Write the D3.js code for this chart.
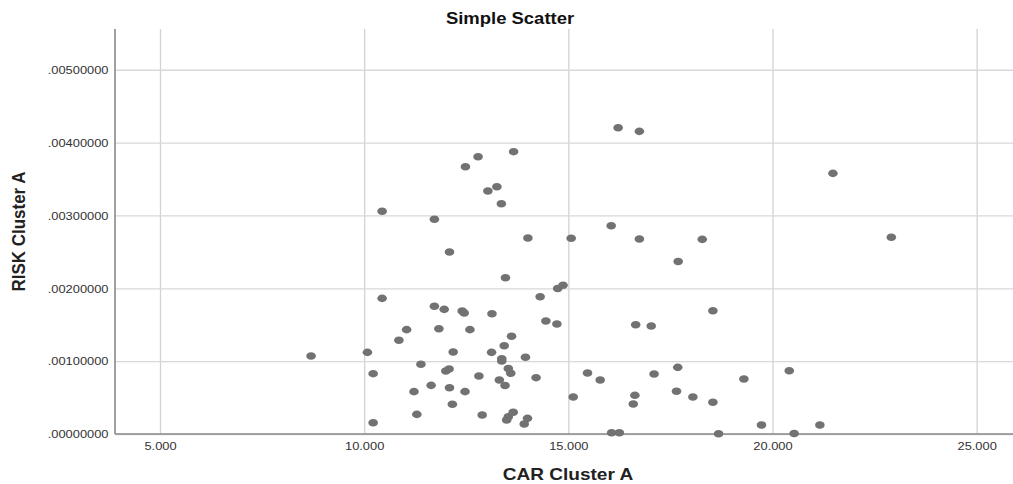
<!DOCTYPE html>
<html>
<head>
<meta charset="utf-8">
<script src="https://cdn.jsdelivr.net/npm/d3@7"></script>
<style>
  html, body { margin: 0; padding: 0; background: #fff; }
  svg { display: block; }
  text { font-family: "Liberation Sans", Arial, sans-serif; }
</style>
</head>
<body>
<script>
// CAR Cluster A (x) values
const carValues = [
  8.70, 10.08, 10.22, 10.22, 10.44, 10.44, 10.85, 11.04, 11.22, 11.29,
  11.39, 11.64, 11.72, 11.72, 11.83, 11.96, 12.08, 12.00, 12.09, 12.09,
  12.16, 12.18, 12.40, 12.45, 12.47, 12.48, 12.59, 12.79, 12.81, 12.89,
  13.03, 13.12, 13.13, 13.25, 13.31, 13.36, 13.37, 13.37, 13.43, 13.46,
  13.45, 13.49, 13.53, 13.53, 13.59, 13.61, 13.65, 13.66, 13.95, 13.92,
  14.00, 14.01, 14.21, 14.31, 14.45, 14.72, 14.74, 14.87, 15.07, 15.12,
  15.47, 15.78, 16.05, 16.06, 16.22, 16.25, 16.59, 16.63, 16.65, 16.74,
  16.74, 17.03, 17.10, 17.65, 17.68, 17.69, 18.05, 18.28, 18.54, 18.54,
  18.68, 19.30, 19.73, 20.41, 20.53, 21.16, 21.48, 22.91
];
// RISK Cluster A (y) values
const riskValues = [
  0.001071, 0.001121, 0.000828, 0.000155, 0.003057, 0.001862, 0.001286, 0.001432, 0.000581, 0.000270,
  0.000957, 0.000668, 0.002947, 0.001753, 0.001445, 0.001711, 0.000892, 0.000865, 0.000635, 0.002498,
  0.000408, 0.001125, 0.001688, 0.001661, 0.000581, 0.003669, 0.001432, 0.003806, 0.000796, 0.000261,
  0.003335, 0.001121, 0.001651, 0.003394, 0.000741, 0.003161, 0.001033, 0.001002, 0.001212, 0.002145,
  0.000666, 0.000192, 0.000237, 0.000899, 0.000833, 0.001341, 0.000298, 0.003875, 0.001053, 0.000137,
  0.000215, 0.002690, 0.000773, 0.001884, 0.001551, 0.001510, 0.001997, 0.002041, 0.002686, 0.000508,
  0.000837, 0.000741, 0.002859, 0.000018, 0.004204, 0.000018, 0.000412, 0.000531, 0.001500, 0.004154,
  0.002676, 0.001482, 0.000824, 0.000586, 0.000915, 0.002368, 0.000508, 0.002672, 0.000435, 0.001692,
  0.000004, 0.000755, 0.000124, 0.000869, 0.000007, 0.000124, 0.003578, 0.002700
];
const xTicks = [5, 10, 15, 20, 25];
const xTickLabels = ["5.000", "10.000", "15.000", "20.000", "25.000"];
const yTicks = [0, 0.001, 0.002, 0.003, 0.004, 0.005];
const yTickLabels = [".00000000", ".00100000", ".00200000", ".00300000", ".00400000", ".00500000"];
const chartTitle = "Simple Scatter";
const xTitle = "CAR Cluster A";
const yTitle = "RISK Cluster A";

const W = 1013, H = 484;
const pLeft = 115, pTop = 29, pRight = 1013, pBottom = 434;
const SX = 1.12; // horizontal text stretch seen in reference

const x = d3.scaleLinear().domain([3.898, 25.89]).range([pLeft, pRight]);
const y = d3.scaleLinear().domain([0, 0.005559]).range([pBottom, pTop]);

const svg = d3.select("body").append("svg").attr("width", W).attr("height", H);

// X axis with vertical gridlines
const xAxis = d3.axisBottom(x)
  .tickValues(xTicks)
  .tickFormat((d, i) => xTickLabels[i])
  .tickSizeInner(-(pBottom - pTop))
  .tickSizeOuter(0);
const gx = svg.append("g").attr("transform", `translate(0,${pBottom})`).call(xAxis);
gx.selectAll(".tick line").attr("stroke", "#d2d2d2").attr("stroke-width", 1.3);
gx.selectAll(".tick text")
  .attr("y", 16).attr("dy", 0)
  .attr("transform", `scale(${SX},1)`)
  .attr("fill", "#333").style("font-size", "11.5px");
gx.select(".domain").remove();

// Y axis with horizontal gridlines
const yAxis = d3.axisLeft(y)
  .tickValues(yTicks)
  .tickFormat((d, i) => yTickLabels[i])
  .tickSizeInner(-(pRight - pLeft))
  .tickSizeOuter(0);
const gy = svg.append("g").attr("transform", `translate(${pLeft},0)`).call(yAxis);
gy.selectAll(".tick line").attr("stroke", "#d8d8d8").attr("stroke-width", 1.3);
gy.selectAll(".tick text")
  .attr("x", -6.5 / SX).attr("dy", "0.33em")
  .attr("transform", `scale(${SX},1)`)
  .attr("fill", "#333").style("font-size", "11.5px");
gy.select(".domain").remove();

// axis lines
svg.append("line").attr("x1", pLeft).attr("x2", pLeft).attr("y1", pTop).attr("y2", pBottom)
  .attr("stroke", "#8a8a8a").attr("stroke-width", 1.6);
svg.append("line").attr("x1", pLeft).attr("x2", pRight).attr("y1", pBottom).attr("y2", pBottom)
  .attr("stroke", "#8a8a8a").attr("stroke-width", 1.6);

// points
const pts = carValues.map((c, i) => ({ c, r: riskValues[i] }));
svg.append("g").selectAll("ellipse").data(pts).join("ellipse")
  .attr("cx", d => x(d.c)).attr("cy", d => y(d.r))
  .attr("rx", 4.8).attr("ry", 3.8)
  .attr("fill", "#727272");

// titles
svg.append("text")
  .attr("transform", `translate(510,24) scale(${SX},1)`)
  .attr("text-anchor", "middle")
  .style("font-size", "16.5px").style("font-weight", "bold").attr("fill", "#111")
  .text(chartTitle);
svg.append("text")
  .attr("transform", `translate(568,480) scale(${SX},1)`)
  .attr("text-anchor", "middle")
  .style("font-size", "17px").style("font-weight", "bold").attr("fill", "#222")
  .text(xTitle);
svg.append("text")
  .attr("transform", `translate(25,${(pTop + pBottom) / 2}) scale(${SX},1) rotate(-90)`)
  .attr("text-anchor", "middle")
  .style("font-size", "17px").style("font-weight", "bold").attr("fill", "#222")
  .text(yTitle);
</script>
</body>
</html>
